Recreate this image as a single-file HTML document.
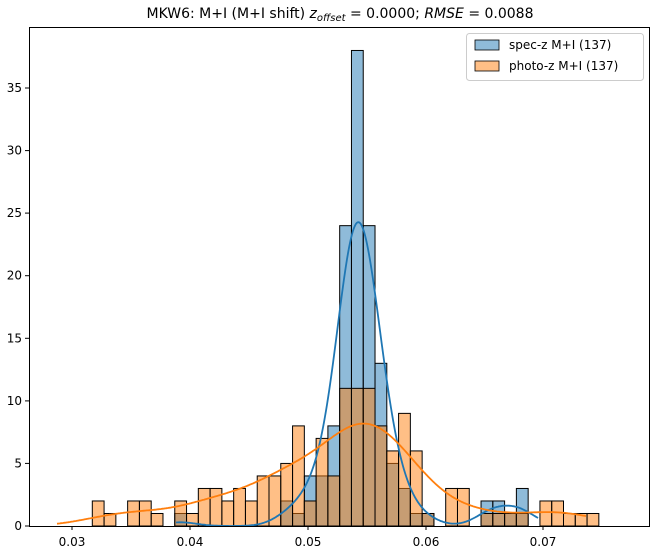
<!DOCTYPE html>
<html><head><meta charset="utf-8"><style>
html,body{margin:0;padding:0;background:#fff;}
svg{display:block;font-family:"DejaVu Sans","Liberation Sans",sans-serif;}
</style></head><body>
<svg id="s" width="651" height="552" viewBox="0 0 651 552" xmlns="http://www.w3.org/2000/svg">
<rect width="651" height="552" fill="#fff"/>
<g id="bars"></g>
<g id="curves"></g>
<rect x="29.5" y="27.5" width="620" height="499" fill="none" stroke="#000" stroke-width="1"/>
<g font-size="12" fill="#000" text-anchor="middle">
<text x="72" y="546">0.03</text>
<text x="190" y="546">0.04</text>
<text x="308" y="546">0.05</text>
<text x="426" y="546">0.06</text>
<text x="543" y="546">0.07</text>
</g>
<g stroke="#000" stroke-width="1">
<line x1="72" y1="526" x2="72" y2="530"/><line x1="190" y1="526" x2="190" y2="530"/><line x1="308" y1="526" x2="308" y2="530"/><line x1="426" y1="526" x2="426" y2="530"/><line x1="543" y1="526" x2="543" y2="530"/>
<line x1="25" y1="526" x2="29" y2="526"/><line x1="25" y1="463.4" x2="29" y2="463.4"/><line x1="25" y1="400.9" x2="29" y2="400.9"/><line x1="25" y1="338.3" x2="29" y2="338.3"/><line x1="25" y1="275.7" x2="29" y2="275.7"/><line x1="25" y1="213.1" x2="29" y2="213.1"/><line x1="25" y1="150.6" x2="29" y2="150.6"/><line x1="25" y1="88" x2="29" y2="88"/>
</g>
<g font-size="12" fill="#000" text-anchor="end">
<text x="22" y="530">0</text><text x="22" y="467.4">5</text><text x="22" y="404.9">10</text><text x="22" y="342.3">15</text><text x="22" y="279.7">20</text><text x="22" y="217.1">25</text><text x="22" y="154.6">30</text><text x="22" y="92">35</text>
</g>
<text x="340" y="18" font-size="14" text-anchor="middle">MKW6: M+I (M+I shift) <tspan font-style="italic">z</tspan><tspan font-style="italic" font-size="10" dy="3">offset</tspan><tspan dy="-3"> = 0.0000; </tspan><tspan font-style="italic">RMSE</tspan> = 0.0088</text>
<rect x="466.5" y="33.5" width="177" height="47" rx="3" fill="#fff" fill-opacity="0.8" stroke="#ccc"/>
<rect x="475" y="40" width="24" height="10" fill="rgba(31,119,180,0.5)" stroke="#000" stroke-width="0.8"/>
<rect x="475" y="61" width="24" height="10" fill="rgba(255,127,14,0.5)" stroke="#000" stroke-width="0.8"/>
<text x="509" y="49" font-size="12">spec-z M+I (137)</text>
<text x="509" y="70" font-size="12">photo-z M+I (137)</text>
</svg>
<script>
var e0=92.3,w=11.78,u=12.514,b=526;
var O=[2,1,0,2,2,1,0,2,1,3,3,2,3,2,4,4,5,8,2,7,4,11,11,11,8,6,9,6,1,0,3,3,0,1,1,1,1,0,2,2,1,1,1];
var B={7:1,16:2,17:1,18:4,19:4,20:8,21:24,22:38,23:24,24:13,25:5,26:3,27:1,28:1,33:2,34:2,35:1,36:3};
var h='';
for(var k=0;k<43;k++){var x=e0+w*k;var v=B[k]||0;if(v)h+='<rect x="'+x.toFixed(2)+'" y="'+(b-v*u).toFixed(2)+'" width="'+w+'" height="'+(v*u).toFixed(2)+'" fill="rgba(31,119,180,0.5)" stroke="#000" stroke-width="1"/>';}
for(var k=0;k<43;k++){var x=e0+w*k;var v=O[k];if(v)h+='<rect x="'+x.toFixed(2)+'" y="'+(b-v*u).toFixed(2)+'" width="'+w+'" height="'+(v*u).toFixed(2)+'" fill="rgba(255,127,14,0.5)" stroke="#000" stroke-width="1"/>';}
document.getElementById('bars').innerHTML=h;
function kde(data,hh,x0,x1,col){var pts=[];for(var x=x0;x<=x1;x+=1){var s=0;for(var k in data){var c=e0+w*(+k+0.5);s+=data[k]*Math.exp(-0.5*Math.pow((x-c)/hh,2));}var y=s*w/(hh*2.5066);pts.push(x.toFixed(1)+','+(b-y*u).toFixed(1));}
return '<polyline points="'+pts.join(' ')+'" fill="none" stroke="'+col+'" stroke-width="1.8"/>';}
var Od={};O.forEach(function(v,i){if(v)Od[i]=v;});
document.getElementById('curves').innerHTML=kde(B,16,176,538,'#1f77b4')+kde(Od,31,57,586,'#ff7f0e');
</script>
</body></html>
